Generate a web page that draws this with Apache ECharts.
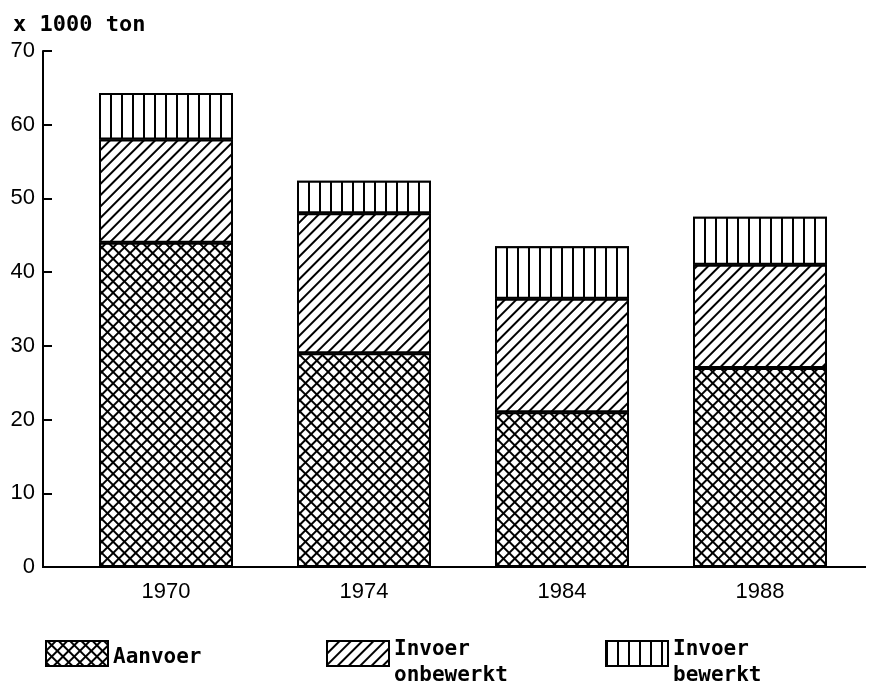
<!DOCTYPE html>
<html>
<head>
<meta charset="utf-8">
<script src="https://cdn.jsdelivr.net/npm/echarts@6/dist/echarts.min.js"></script>
<style>
html,body{margin:0;padding:0;background:#fff;}
#main{width:880px;height:685px;}
</style>
</head>
<body>
<div id="main"></div>
<script>
// ---- data ----
var years = ['1970', '1974', '1984', '1988'];
var aanvoer = [44, 29, 21, 27];
var invoerOnbewerkt = [14, 19, 15.4, 14];
var invoerBewerkt = [6.3, 4.4, 7.1, 6.5];
var yTicks = [0, 10, 20, 30, 40, 50, 60, 70];
var unitLabel = 'x 1000 ton';
var seriesNames = ['Aanvoer', 'Invoer onbewerkt', 'Invoer bewerkt'];

var MONO = 'DejaVu Sans Mono';
var SANS = 'Liberation Sans';

var decalCross = {
  symbol: 'rect', symbolSize: 1, color: '#fff', backgroundColor: '#000',
  dashArrayX: [6, 2], dashArrayY: [6, 2], rotation: Math.PI / 4
};
var decalDiag = {
  symbol: 'rect', symbolSize: 1, color: '#000', backgroundColor: '#fff',
  dashArrayX: [1, 0], dashArrayY: [2, 6], rotation: -Math.PI / 4
};
var decalVert = {
  symbol: 'rect', symbolSize: 1, color: '#000', backgroundColor: '#fff',
  dashArrayX: [2, 9], dashArrayY: [1, 0], rotation: 0
};

function barSeries(name, data, decal) {
  return {
    name: name, type: 'bar', stack: 'total', data: data,
    barWidth: 134,
    itemStyle: { color: '#fff', borderColor: '#000', borderWidth: 2, decal: decal },
    emphasis: { disabled: true },
    animation: false
  };
}

var txt = { fontFamily: MONO, fontSize: 21, fontWeight: 'bold', color: '#000' };
function legend(name, left, top, fmt, rich) {
  return {
    data: [name], left: left, top: top, padding: 0, itemGap: 0,
    icon: 'rect', itemWidth: 62, itemHeight: 25, selectedMode: false,
    itemStyle: { borderColor: '#000', borderWidth: 2 },
    formatter: fmt,
    textStyle: Object.assign({}, txt, { rich: rich })
  };
}

var chart = echarts.init(document.getElementById('main'), null, { renderer: 'canvas' });

chart.setOption({
  backgroundColor: '#fff',
  animation: false,
  title: {
    text: unitLabel, left: 8, top: 9,
    textStyle: { fontFamily: MONO, fontSize: 22, fontWeight: 'bold', color: '#000' }
  },
  legend: [
    legend(seriesNames[0], 45, 630.5,
      function (n) { return '{e| }\n{a|' + n + '}'; },
      { e: Object.assign({}, txt, { lineHeight: 9 }), a: Object.assign({}, txt, { lineHeight: 25 }) }),
    legend(seriesNames[1], 326, 639.5,
      function (n) { var p = n.split(' '); return '{a|' + p[0] + '}\n{b|' + p[1] + '}'; },
      { a: Object.assign({}, txt, { lineHeight: 45 }), b: Object.assign({}, txt, { lineHeight: 7 }) }),
    legend(seriesNames[2], 605, 639.5,
      function (n) { var p = n.split(' '); return '{a|' + p[0] + '}\n{b|' + p[1] + '}'; },
      { a: Object.assign({}, txt, { lineHeight: 45 }), b: Object.assign({}, txt, { lineHeight: 7 }) })
  ],
  grid: { left: 67, right: 21, top: 51, bottom: 118 },
  xAxis: {
    type: 'category', data: years,
    axisLine: { show: true, lineStyle: { color: '#000', width: 2 } },
    axisTick: { show: false },
    axisLabel: { color: '#000', fontFamily: SANS, fontSize: 22, margin: 14 }
  },
  yAxis: {
    type: 'value', min: yTicks[0], max: yTicks[yTicks.length - 1], interval: 10,
    offset: 24,
    splitLine: { show: false },
    axisLine: { show: true, lineStyle: { color: '#000', width: 2 } },
    axisTick: { show: true, inside: true, length: 9, lineStyle: { color: '#000', width: 2 } },
    axisLabel: { color: '#000', fontFamily: SANS, fontSize: 22, margin: 8 }
  },
  series: [
    barSeries(seriesNames[0], aanvoer, decalCross),
    barSeries(seriesNames[1], invoerOnbewerkt, decalDiag),
    barSeries(seriesNames[2], invoerBewerkt, decalVert)
  ]
});

// extend the x-axis baseline to meet the offset y-axis (axis decoration only)
var y0 = chart.convertToPixel({ yAxisIndex: 0 }, 0);
chart.setOption({
  graphic: [
    { type: 'line', shape: { x1: 42, y1: y0, x2: 68, y2: y0 }, style: { stroke: '#000', lineWidth: 2 }, silent: true },
    { type: 'line', shape: { x1: 858, y1: y0, x2: 866, y2: y0 }, style: { stroke: '#000', lineWidth: 2 }, silent: true }
  ]
});
</script>
</body>
</html>
